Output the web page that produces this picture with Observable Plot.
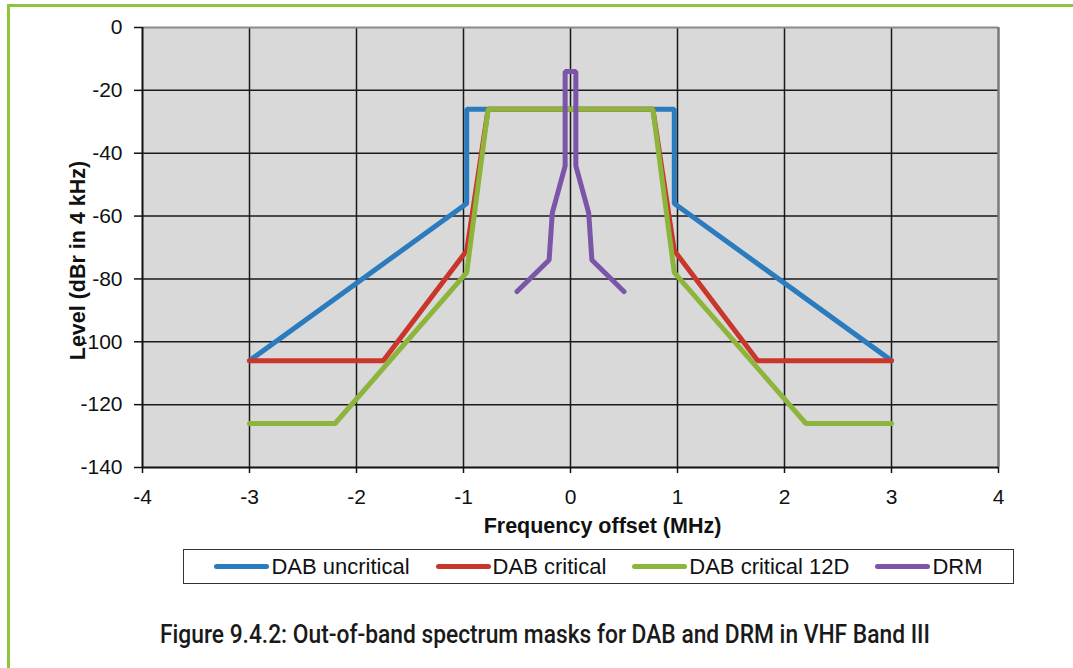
<!DOCTYPE html>
<html><head><meta charset="utf-8">
<script src="https://cdn.jsdelivr.net/npm/d3@7"></script>
<script src="https://cdn.jsdelivr.net/npm/@observablehq/plot@0.6"></script>
<style>
html,body{margin:0;padding:0;background:#fff;width:1073px;height:668px;overflow:hidden;font-family:"Liberation Sans",Arial,sans-serif;}
#border{position:absolute;left:7px;top:4px;width:1200px;height:800px;border-top:3px solid #8cc63f;border-left:3px solid #8cc63f;}
#chart{position:absolute;left:0;top:0;}
#legend{position:absolute;left:183px;top:549px;width:829px;height:33px;border:1.5px solid #333;display:flex;align-items:center;justify-content:center;gap:26px;font-size:22px;color:#111;}
.item{display:flex;align-items:center;white-space:nowrap;}
.sw{display:inline-block;width:55px;height:5px;border-radius:3px;margin-right:2px;}
#caption{position:absolute;left:0;top:600px;}
</style></head><body>
<div id="border"></div>
<div id="chart"></div>
<div id="legend"></div>
<svg id="caption" width="1073" height="60"></svg>
<script>
const seriesNames = ["DAB uncritical", "DAB critical", "DAB critical 12D", "DRM"];
const seriesColors = ["#2b7bbf", "#c9372c", "#8db53c", "#7b56a8"];
const xTicks = [-4, -3, -2, -1, 0, 1, 2, 3, 4];
const yTicks = [0, -20, -40, -60, -80, -100, -120, -140];

const uncriticalFreq = [-3, -0.97, -0.97, 0.97, 0.97, 3];
const uncriticalLevel = [-106, -56, -26, -26, -56, -106];
const criticalFreq = [-3, -1.75, -0.97, -0.77, 0.77, 0.97, 1.75, 3];
const criticalLevel = [-106, -106, -71, -26, -26, -71, -106, -106];
const critical12DFreq = [-3, -2.2, -0.97, -0.77, 0.77, 0.97, 2.2, 3];
const critical12DLevel = [-126, -126, -78, -26, -26, -78, -126, -126];
const drmFreq = [-0.5, -0.2, -0.17, -0.05, -0.05, 0.05, 0.05, 0.17, 0.2, 0.5];
const drmLevel = [-84, -74, -59, -44, -14, -14, -44, -59, -74, -84];

const captionText = "Figure 9.4.2: Out-of-band spectrum masks for DAB and DRM in VHF Band III";
const xLabel = "Frequency offset (MHz)";
const yLabel = "Level (dBr in 4 kHz)";

const seriesData = [
  [uncriticalFreq, uncriticalLevel],
  [criticalFreq, criticalLevel],
  [critical12DFreq, critical12DLevel],
  [drmFreq, drmLevel]
];
const rows = [];
seriesData.forEach(([fs, ls], i) => fs.forEach((f, j) => rows.push({series: seriesNames[i], freq: f, level: ls[j]})));

const gridStyle = {stroke: "#1a1a1a", strokeOpacity: 1, strokeWidth: 1.5};

const plot = Plot.plot({
  width: 1073, height: 540,
  marginLeft: 142, marginRight: 75, marginTop: 27, marginBottom: 73,
  style: {fontFamily: '"Liberation Sans", Arial, sans-serif', fontSize: "21px", color: "#111", background: "transparent"},
  x: {domain: [-4, 4]},
  y: {domain: [-140, 0]},
  color: {domain: seriesNames, range: seriesColors},
  marks: [
    Plot.frame({fill: "#d9d9d9", stroke: null}),
    Plot.gridX(xTicks.filter(d => d > -4 && d < 4), gridStyle),
    Plot.gridY(yTicks.filter(d => d < 0 && d > -140), gridStyle),
    Plot.ruleY([0], {stroke: "#8a8a8a", strokeWidth: 2}),
    Plot.ruleX([4], {stroke: "#7a7a7a", strokeWidth: 2.5}),
    Plot.line(rows, {x: "freq", y: "level", z: "series", stroke: "series", strokeWidth: 5, strokeLinejoin: "miter", strokeLinecap: "round"}),
    Plot.ruleX([-4], {stroke: "#111", strokeWidth: 2}),
    Plot.ruleY([-140], {stroke: "#111", strokeWidth: 2}),
    Plot.axisX(xTicks, {tickSize: 6, tickPadding: 16, label: null, tickFormat: d => String(d), strokeWidth: 1.5}),
    Plot.axisY(yTicks, {tickSize: 8, tickPadding: 12, label: null, tickFormat: d => String(d), strokeWidth: 1.5}),
    Plot.text([xLabel], {frameAnchor: "bottom", dx: 32, dy: 59, fontWeight: "bold", fontSize: 21.5, lineAnchor: "middle"}),
    Plot.text([yLabel], {frameAnchor: "left", textAnchor: "middle", rotate: -90, dx: -64, dy: 13, fontWeight: "bold", fontSize: 21.5, lineAnchor: "middle"})
  ]
});
document.getElementById("chart").appendChild(plot);

const legend = document.getElementById("legend");
seriesNames.forEach((name, i) => {
  const item = document.createElement("div");
  item.className = "item";
  const sw = document.createElement("span");
  sw.className = "sw";
  sw.style.background = seriesColors[i];
  item.appendChild(sw);
  const t = document.createElement("span");
  t.textContent = name;
  item.appendChild(t);
  legend.appendChild(item);
});

const cap = d3.select("#caption");
cap.append("text")
  .attr("x", 160).attr("y", 43)
  .attr("textLength", 770).attr("lengthAdjust", "spacingAndGlyphs")
  .attr("font-family", "Roboto, 'Liberation Sans', sans-serif")
  .attr("font-weight", 500)
  .attr("font-size", 25)
  .attr("fill", "#1a1a1a")
  .text(captionText);
</script>
</body></html>
